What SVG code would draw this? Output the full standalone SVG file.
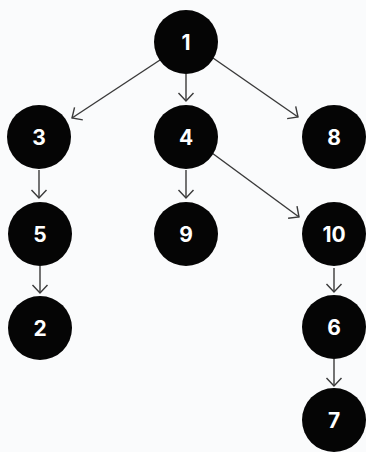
<svg xmlns="http://www.w3.org/2000/svg" width="366" height="452" viewBox="0 0 366 452">
<style>
.n circle{fill:#050505}
.n text{fill:#fff;font-family:Inter,"Liberation Sans",sans-serif;font-weight:700;font-size:21px;text-anchor:middle;dominant-baseline:central}
.e line{stroke:#3a3a3a;stroke-width:1.4;fill:none;marker-end:url(#ah)}
</style>
<defs>
<marker id="ah" viewBox="0 0 18 18" refX="9.5" refY="9" markerWidth="18" markerHeight="18" markerUnits="userSpaceOnUse" orient="auto">
<path d="M1.5,1.5 L9.5,9 L1.5,16.5" fill="none" stroke="#3a3a3a" stroke-width="1.4"/>
</marker>
</defs>
<rect width="366" height="452" fill="#fafbfc"/>
<g id="connectors" class="e">
<line x1="160" y1="60" x2="72" y2="118"/>
<line x1="186" y1="74" x2="186" y2="101"/>
<line x1="213" y1="58" x2="298" y2="117"/>
<line x1="39" y1="170" x2="39" y2="198"/>
<line x1="186" y1="170" x2="186" y2="198"/>
<line x1="212" y1="153" x2="299" y2="217"/>
<line x1="40" y1="266" x2="40" y2="293"/>
<line x1="334" y1="268" x2="334" y2="292"/>
<line x1="334" y1="359" x2="334" y2="386"/>
</g>
<g id="n1" class="n"><circle cx="186" cy="42" r="32"/><text x="186" y="42">1</text></g>
<g id="n3" class="n"><circle cx="39" cy="137" r="32"/><text x="39" y="137">3</text></g>
<g id="n4" class="n"><circle cx="186" cy="137" r="32"/><text x="186" y="137">4</text></g>
<g id="n8" class="n"><circle cx="334" cy="137" r="32"/><text x="334" y="137">8</text></g>
<g id="n5" class="n"><circle cx="40" cy="234" r="32"/><text x="40" y="234">5</text></g>
<g id="n9" class="n"><circle cx="186" cy="234" r="32"/><text x="186" y="234">9</text></g>
<g id="n10" class="n"><circle cx="334" cy="234" r="32"/><text x="334" y="234">10</text></g>
<g id="n2" class="n"><circle cx="40" cy="328" r="32"/><text x="40" y="328">2</text></g>
<g id="n6" class="n"><circle cx="334" cy="327" r="32"/><text x="334" y="327">6</text></g>
<g id="n7" class="n"><circle cx="334" cy="420" r="32"/><text x="334" y="420">7</text></g>
</svg>
